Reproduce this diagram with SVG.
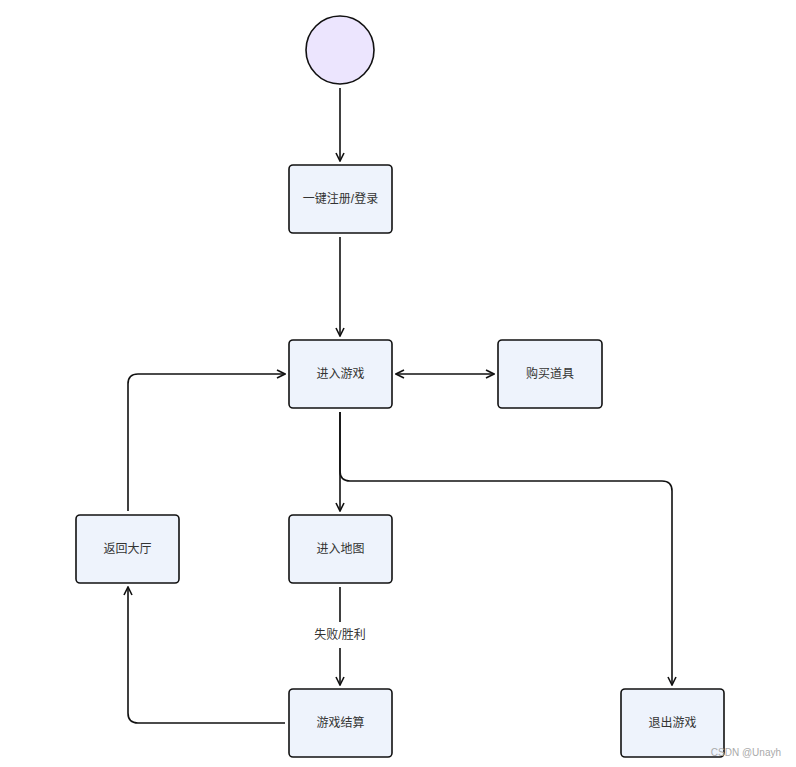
<svg xmlns="http://www.w3.org/2000/svg" width="796" height="767" viewBox="0 0 796 767">
<style>
.n{fill:#EEF3FC;stroke:#111;stroke-width:1.6}
.t{font-family:"Liberation Sans","Noto Sans CJK SC",sans-serif;font-size:12px;fill:#333;text-anchor:middle;dominant-baseline:central}
.e{fill:none;stroke:#111;stroke-width:1.6}
</style>
<defs>
<marker id="a" viewBox="0 0 10 10" refX="9" refY="5" markerWidth="10" markerHeight="10" markerUnits="userSpaceOnUse" orient="auto-start-reverse">
<path d="M1,1 L9,5 L1,9" fill="none" stroke="#111" stroke-width="1.6"/>
</marker>
</defs>
<rect width="796" height="767" fill="#fff"/>
<g id="edges">
<path class="e" d="M340,88 V161" marker-end="url(#a)"/>
<path class="e" d="M340,237 V336" marker-end="url(#a)"/>
<path class="e" d="M396,374 H494" marker-start="url(#a)" marker-end="url(#a)"/>
<path class="e" d="M340,412 V511" marker-end="url(#a)"/>
<path class="e" d="M340,412 V471 Q340,481 350,481 H662 Q672,481 672,491 V685" marker-end="url(#a)"/>
<path class="e" d="M128,511 V384 Q128,374 138,374 H285" marker-end="url(#a)"/>
<path class="e" d="M285,723 H138 Q128,723 128,713 V587" marker-end="url(#a)"/>
<path class="e" d="M340,587 V622 M340,648 V685" marker-end="url(#a)"/>
<text class="t" x="340" y="635">失败/胜利</text>
</g>
<g id="start"><circle cx="340" cy="50" r="34" fill="#ECE5FE" stroke="#111" stroke-width="1.6"/></g>
<g id="login"><rect class="n" x="289" y="165" width="103" height="68" rx="4"/><text class="t" x="340.5" y="199">一键注册/登录</text></g>
<g id="enter"><rect class="n" x="289" y="340" width="103" height="68" rx="4"/><text class="t" x="340.5" y="374">进入游戏</text></g>
<g id="buy"><rect class="n" x="498" y="340" width="104" height="68" rx="4"/><text class="t" x="550" y="374">购买道具</text></g>
<g id="lobby"><rect class="n" x="76" y="515" width="103" height="68" rx="4"/><text class="t" x="127.5" y="549">返回大厅</text></g>
<g id="map"><rect class="n" x="289" y="515" width="103" height="68" rx="4"/><text class="t" x="340.5" y="549">进入地图</text></g>
<g id="settle"><rect class="n" x="289" y="689" width="103" height="68" rx="4"/><text class="t" x="340.5" y="723">游戏结算</text></g>
<g id="quit"><rect class="n" x="621" y="689" width="103" height="68" rx="4"/><text class="t" x="672.5" y="723">退出游戏</text></g>
<text x="781" y="752" font-family="Liberation Sans,sans-serif" font-size="10" fill="#aaa" text-anchor="end" dominant-baseline="central">CSDN @Unayh</text>
</svg>
